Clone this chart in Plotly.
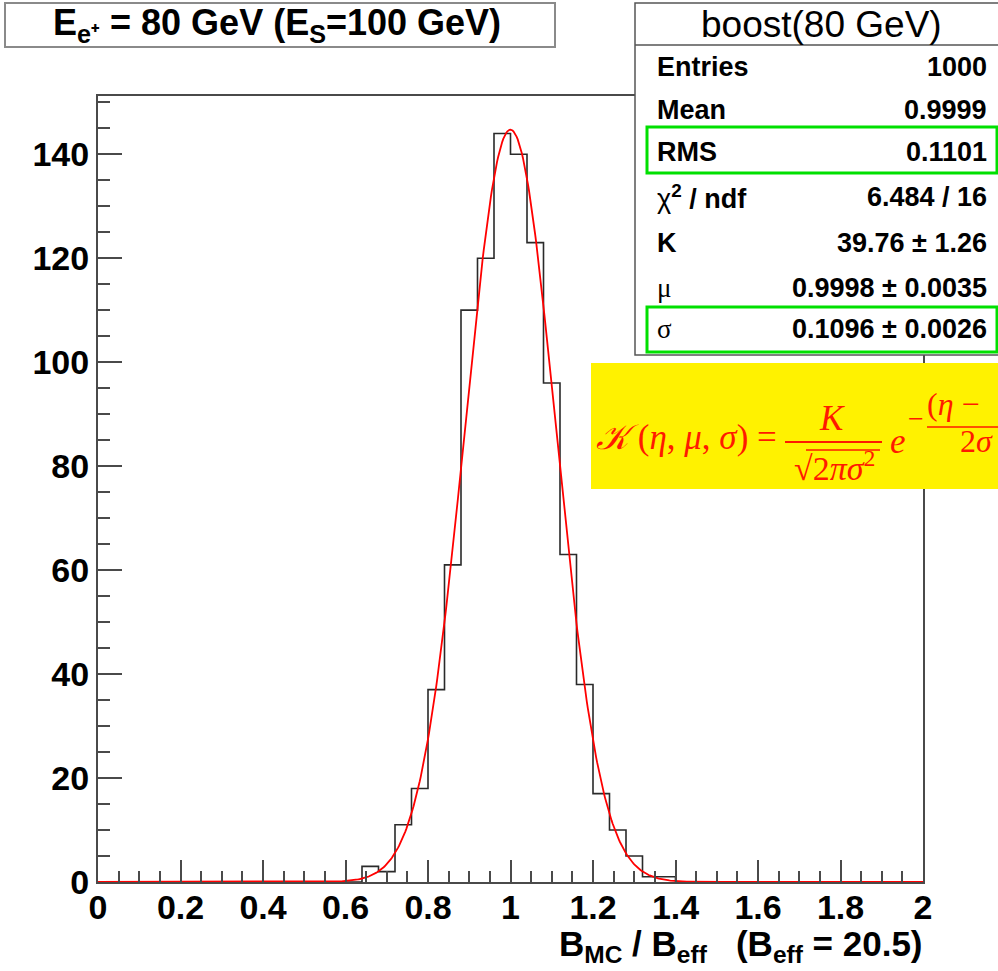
import numpy as np
import plotly.graph_objects as go

# ---------------- data ----------------
bin_width = 0.04
x_range = [0.0, 2.0]
counts = [0, 0, 0, 0, 0, 0, 0, 0, 0, 0,
          0, 0, 0, 0, 0, 0, 3, 2, 11, 18,
          37, 61, 110, 120, 144, 140, 123, 96, 63, 38,
          17, 10, 5, 1, 1, 0, 0, 0, 0, 0,
          0, 0, 0, 0, 0, 0, 0, 0, 0, 0]
fit_K = 39.76
fit_mu = 0.9998
fit_sigma = 0.1096

stat_labels = ["<b>Entries</b>", "<b>Mean</b>", "<b>RMS</b>", "χ<b><sup>2</sup> / ndf</b>",
               "<b>K</b>", "μ", "σ"]
stat_values = ["1000", "0.9999", "0.1101", "6.484 / 16",
               "39.76 ± 1.26", "0.9998 ± 0.0035", "0.1096 ± 0.0026"]
stat_rows_px = [67, 110, 152, 197, 243, 288, 329]

x_ticks = [0, 0.2, 0.4, 0.6, 0.8, 1.0, 1.2, 1.4, 1.6, 1.8, 2.0]
y_ticks = [0, 20, 40, 60, 80, 100, 120, 140]

# ---------------- geometry helpers ----------------
W, H = 998, 971
L, R, T, B = 98, 75, 96, 89
PW, PH = W - L - R, H - T - B


def px(x):
    return (x - L) / PW


def py(y):
    return (H - B - y) / PH


FONT = "Liberation Sans, Arial, Helvetica, sans-serif"
SERIF = "Liberation Serif, DejaVu Serif, Times New Roman, serif"
RED = "#ff1a00"

edges = x_range[0] + bin_width * np.arange(len(counts) + 1)
step_y = list(counts) + [counts[-1]]

xf = np.linspace(x_range[0], x_range[1], 801)
yf = fit_K / np.sqrt(2 * np.pi * fit_sigma ** 2) * np.exp(-(xf - fit_mu) ** 2 / (2 * fit_sigma ** 2))

fig = go.Figure()
fig.add_trace(go.Scatter(x=edges, y=step_y, mode="lines", line=dict(shape="hv", color="#2a2a2a", width=1.6),
                         hoverinfo="skip", showlegend=False))
fig.add_trace(go.Scatter(x=xf, y=yf, mode="lines", line=dict(color="#ff0000", width=1.8),
                         hoverinfo="skip", showlegend=False))

axis_common = dict(showgrid=False, zeroline=False, showline=True, mirror=True, linecolor="#4a4a4a",
                   linewidth=2, ticks="inside", tickcolor="#4a4a4a", tickwidth=1.5,
                   tickfont=dict(family=FONT, size=34, color="black", weight="bold"))

fig.update_xaxes(range=x_range, tickmode="array", tickvals=x_ticks, ticklen=22,
                 minor=dict(ticks="inside", dtick=0.05, tick0=0, ticklen=11, tickwidth=1.5, tickcolor="#4a4a4a"),
                 ticklabelstandoff=-6, **axis_common)
fig.update_yaxes(range=[0, 151.2], tickmode="array", tickvals=y_ticks, ticklen=24,
                 minor=dict(ticks="inside", dtick=5, tick0=0, ticklen=12, tickwidth=1.5, tickcolor="#4a4a4a"),
                 ticklabelstandoff=0, **axis_common)

shapes = []
ann = []

# title box
shapes.append(dict(type="rect", xref="paper", yref="paper", x0=px(5), x1=px(555), y0=py(47), y1=py(3),
                   line=dict(color="#8a8a8a", width=2), fillcolor="white", layer="above"))
ann.append(dict(xref="paper", yref="paper", x=px(277), y=py(25), xanchor="center", yanchor="middle",
                text="<b>E<sub>e⁺</sub> = 80 GeV (E<sub>S</sub>=100 GeV)</b>", showarrow=False,
                font=dict(family=FONT, size=36, color="black")))

# stats box
shapes.append(dict(type="rect", xref="paper", yref="paper", x0=px(635), x1=px(1002), y0=py(355), y1=py(3),
                   line=dict(color="#555555", width=1.5), fillcolor="white", layer="above"))
shapes.append(dict(type="line", xref="paper", yref="paper", x0=px(635), x1=px(1002), y0=py(45), y1=py(45),
                   line=dict(color="#555555", width=1.5), layer="above"))
ann.append(dict(xref="paper", yref="paper", x=px(821), y=py(24), xanchor="center", yanchor="middle",
                text="boost(80 GeV)", showarrow=False, font=dict(family=FONT, size=37, color="black")))
for lab, val, yy in zip(stat_labels, stat_values, stat_rows_px):
    lab_font = SERIF if lab in ("μ", "σ") else FONT
    ann.append(dict(xref="paper", yref="paper", x=px(655), y=py(yy), xanchor="left", yanchor="middle",
                    text=lab, showarrow=False, font=dict(family=lab_font, size=27, color="black")))
    ann.append(dict(xref="paper", yref="paper", x=px(989), y=py(yy), xanchor="right", yanchor="middle",
                    text="<b>" + val + "</b>", showarrow=False, font=dict(family=FONT, size=27, color="black")))
for y0, y1 in [(127, 173), (307, 352)]:
    shapes.append(dict(type="rect", xref="paper", yref="paper", x0=px(647), x1=px(997), y0=py(y1), y1=py(y0),
                       line=dict(color="#00e000", width=3), layer="above"))

# yellow formula box
shapes.append(dict(type="rect", xref="paper", yref="paper", x0=px(591), x1=px(1005), y0=py(489), y1=py(363),
                   line=dict(width=0), fillcolor="#fff200", layer="above"))
ann.append(dict(xref="paper", yref="paper", x=px(594), y=py(438), xanchor="left", yanchor="middle",
                text="<i>𝒦</i> (<i>η</i>, <i>μ</i>, <i>σ</i>) =", showarrow=False,
                font=dict(family=SERIF, size=35, color=RED)))
ann.append(dict(xref="paper", yref="paper", x=px(832), y=py(418), xanchor="center", yanchor="middle",
                text="<i>K</i>", showarrow=False, font=dict(family=SERIF, size=35, color=RED)))
shapes.append(dict(type="line", xref="paper", yref="paper", x0=px(785), x1=px(882), y0=py(442), y1=py(442),
                   line=dict(color=RED, width=2), layer="above"))
ann.append(dict(xref="paper", yref="paper", x=px(834), y=py(466), xanchor="center", yanchor="middle",
                text="√2<i>πσ</i><sup>2</sup>", showarrow=False, font=dict(family=SERIF, size=34, color=RED)))
shapes.append(dict(type="line", xref="paper", yref="paper", x0=px(806), x1=px(880), y0=py(450), y1=py(450),
                   line=dict(color=RED, width=1.5), layer="above"))
ann.append(dict(xref="paper", yref="paper", x=px(898), y=py(441), xanchor="center", yanchor="middle",
                text="<i>e</i>", showarrow=False, font=dict(family=SERIF, size=35, color=RED)))
ann.append(dict(xref="paper", yref="paper", x=px(916), y=py(418), xanchor="center", yanchor="middle",
                text="−", showarrow=False, font=dict(family=SERIF, size=28, color=RED)))
ann.append(dict(xref="paper", yref="paper", x=px(925), y=py(404), xanchor="left", yanchor="middle",
                text="(<i>η</i> −", showarrow=False, font=dict(family=SERIF, size=32, color=RED)))
shapes.append(dict(type="line", xref="paper", yref="paper", x0=px(927), x1=px(1005), y0=py(427), y1=py(427),
                   line=dict(color=RED, width=1.5), layer="above"))
ann.append(dict(xref="paper", yref="paper", x=px(958), y=py(441), xanchor="left", yanchor="middle",
                text="2<i>σ</i>", showarrow=False, font=dict(family=SERIF, size=32, color=RED)))

# x axis title
ann.append(dict(xref="paper", yref="paper", x=px(925), y=py(946), xanchor="right", yanchor="middle",
                text="<b>B<sub>MC</sub> / B<sub>eff</sub>\u00a0\u00a0\u00a0(B<sub>eff</sub> = 20.5)</b>",
                showarrow=False, font=dict(family=FONT, size=35, color="black")))

fig.update_layout(width=W, height=H, margin=dict(l=L, r=R, t=T, b=B, pad=0),
                  plot_bgcolor="white", paper_bgcolor="white", shapes=shapes, annotations=ann,
                  showlegend=False, font=dict(family=FONT))

fig.write_html("out.html", config={"displayModeBar": False},
               post_script="document.body.style.margin='0';document.body.style.overflow='hidden';")
